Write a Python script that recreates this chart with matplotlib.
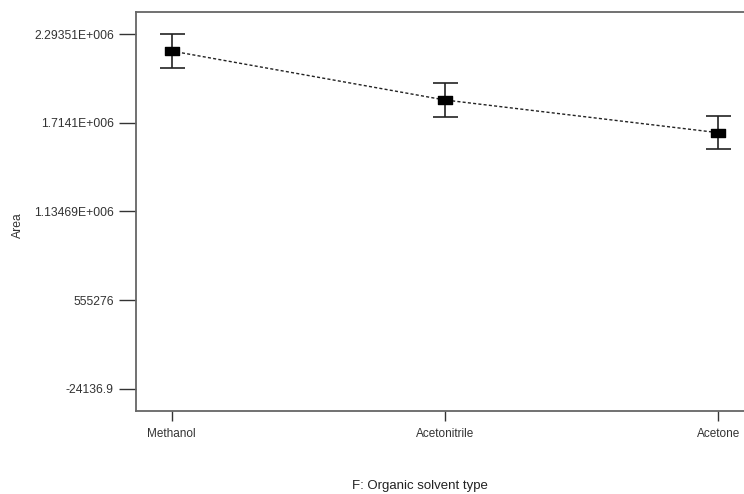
import matplotlib
matplotlib.use("Agg")
import matplotlib.pyplot as plt
from matplotlib.path import Path

categories = ["Methanol", "Acetonitrile", "Acetone"]
area_mean = [2182500, 1862600, 1649100]
area_err = [108500, 108500, 106700]
ytick_values = [-24136.9, 555276, 1134690, 1714100, 2293510]
ytick_labels = ["-24136.9", "555276", "1.13469E+006", "1.7141E+006", "2.29351E+006"]

plt.rcParams['font.family'] = ['Liberation Sans', 'DejaVu Sans']

fig = plt.figure(figsize=(7.44, 4.94), dpi=100)
W, H = 744, 494
left_px, right_px, top_px, bot_px = 136, 752, 12, 411
ax = fig.add_axes([left_px / W, (H - bot_px) / H, (right_px - left_px) / W, (bot_px - top_px) / H])

x = list(range(len(categories)))
rect = Path([(-1, -0.55), (1, -0.55), (1, 0.55), (-1, 0.55), (-1, -0.55)],
            [Path.MOVETO, Path.LINETO, Path.LINETO, Path.LINETO, Path.CLOSEPOLY])

ax.plot(x, area_mean, linestyle=(0, (2.2, 1.6)), color='#222222', linewidth=1.0, zorder=2)
ax.errorbar(x, area_mean, yerr=area_err, fmt='none', ecolor='#222222',
            elinewidth=1.2, capsize=9, capthick=1.2, zorder=3)
ax.plot(x, area_mean, linestyle='none', marker=rect, markersize=10,
        color='black', zorder=4)

ax.set_xlim(-0.13, 2.1225)
ax.set_ylim(-167770, 2437140)
ax.set_xticks(x)
ax.set_xticklabels(categories, fontsize=8.5, color='#333333')
ax.set_yticks(ytick_values)
ax.set_yticklabels(ytick_labels, fontsize=8.7, color='#333333')
ax.tick_params(axis='y', length=12, width=1.0, color='#333333', pad=4)
ax.tick_params(axis='x', length=7.5, width=1.0, color='#333333', pad=5)
for s in ax.spines.values():
    s.set_color('#666666')
    s.set_linewidth(1.3)

fig.text(17.5 / W, 1 - 225 / H, "Area", rotation=90, ha='center', va='center',
         fontsize=8.7, color='#333333')
fig.text(420 / W, 1 - 486 / H, "F: Organic solvent type", ha='center', va='center',
         fontsize=9.5, color='#222222')

fig.savefig("out.png", dpi=100)
